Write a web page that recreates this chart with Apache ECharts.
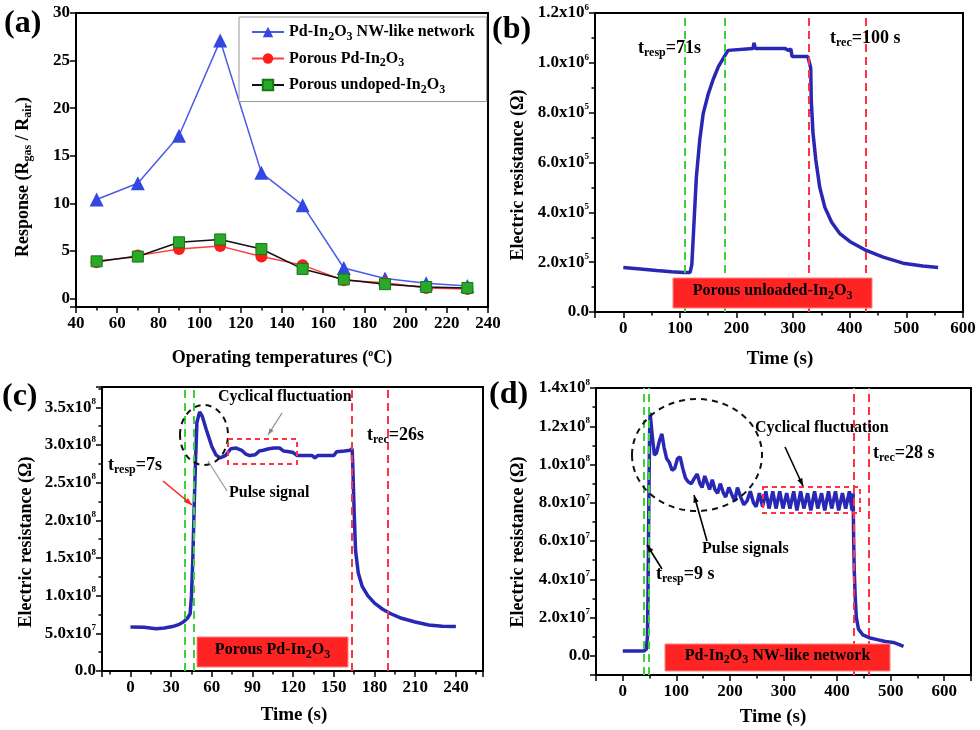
<!DOCTYPE html>
<html>
<head>
<meta charset="utf-8">
<script src="https://cdn.jsdelivr.net/npm/echarts@6/dist/echarts.min.js"></script>
<style>
  html, body { margin: 0; padding: 0; background: #fff; }
  #main { width: 980px; height: 730px; }
</style>
</head>
<body>
<div id="main"></div>
<script>
// ---- data: panel (a) response vs temperature
const tempC = [50, 70, 90, 110, 130, 150, 170, 190, 210, 230];
const nwNetwork = [10.4, 12.1, 17.1, 27.1, 13.2, 9.8, 3.2, 2.1, 1.6, 1.3];
const porousPd = [3.8, 4.5, 5.2, 5.5, 4.4, 3.5, 1.9, 1.65, 1.1, 1.0];
const porousUndoped = [3.9, 4.4, 5.9, 6.2, 5.2, 3.1, 2.0, 1.5, 1.2, 1.1];

// ---- panel (b) porous unloaded In2O3
const timeB = [0, 30, 59, 85, 106, 118, 121, 124, 129, 135, 141, 150, 159, 168, 176, 185, 188, 229, 231, 233,
  285, 292, 296, 298, 326, 328, 331, 332, 335, 340, 347, 356, 368, 382, 400, 429, 459, 494, 529, 556];
const resB = [1.79e5, 1.73e5, 1.67e5, 1.62e5, 1.59e5, 1.59e5, 1.9e5, 3.2e5, 5.4e5, 6.9e5, 7.95e5, 8.75e5, 9.35e5, 9.85e5, 1.016e6, 1.05e6, 1.058e6, 1.058e6, 1.08e6, 1.058e6,
  1.058e6, 1.05e6, 1.055e6, 1.025e6, 1.025e6, 1.02e6, 9.8e5, 8.5e5, 7.2e5, 6.1e5, 5.0e5, 4.2e5, 3.6e5, 3.16e5, 2.83e5, 2.47e5, 2.2e5, 1.96e5, 1.85e5, 1.79e5];

// ---- panel (c) porous Pd-In2O3
const timeC = [0, 10, 19, 25, 31, 36, 39, 42, 44, 45, 46, 47, 48, 49, 51, 53, 56, 60, 63, 66,
  70, 74, 78, 82, 85, 88, 92, 95, 98, 102, 106, 110, 113, 117, 120, 123, 130, 134, 136, 138,
  145, 150, 152, 158, 162, 163.5, 164, 165, 166, 168, 171, 175, 180, 186, 192, 200, 210, 220, 230, 240];
const resC = [5.85e7, 5.8e7, 5.6e7, 5.7e7, 5.9e7, 6.2e7, 6.5e7, 7.0e7, 7.6e7, 1.0e8, 1.5e8, 2.2e8, 2.8e8, 3.3e8, 3.44e8, 3.38e8, 3.2e8, 2.98e8, 2.87e8, 2.83e8,
  2.86e8, 2.95e8, 2.96e8, 2.93e8, 2.88e8, 2.86e8, 2.87e8, 2.92e8, 2.93e8, 2.95e8, 2.96e8, 2.96e8, 2.92e8, 2.91e8, 2.9e8, 2.86e8, 2.86e8, 2.86e8, 2.83e8, 2.86e8,
  2.86e8, 2.86e8, 2.91e8, 2.92e8, 2.93e8, 2.95e8, 2.7e8, 2.1e8, 1.6e8, 1.3e8, 1.12e8, 1.0e8, 9.0e7, 8.2e7, 7.6e7, 7.0e7, 6.5e7, 6.1e7, 5.95e7, 5.9e7];

// ---- panel (d) Pd-In2O3 NW-like network
const timeD = [0, 20, 40, 44, 46, 47, 48, 49, 50, 51, 55, 59, 63, 68, 73, 77, 82, 87, 92, 97,
  102, 107, 112, 117, 122, 128, 134, 139, 144, 148, 153, 158, 162, 167, 172, 177, 182, 188, 192, 198,
  204, 209, 214, 220, 226, 232, 238, 244, 249, 255, 261, 267, 273, 280, 286, 293, 299, 306, 312, 319,
  325, 332, 338, 345, 351, 358, 364, 371, 377, 384, 390, 397, 403, 410, 416, 423, 428, 430, 431, 432,
  434, 436, 440, 448, 460, 475, 490, 505, 515, 524];
const resD = [2.5e6, 2.5e6, 2.6e6, 3.5e6, 1.0e7, 3.0e7, 6.0e7, 9.0e7, 1.15e8, 1.27e8, 1.15e8, 1.05e8, 1.06e8, 1.12e8, 1.16e8, 1.09e8, 1.03e8, 1.01e8, 9.7e7, 9.8e7,
  1.03e8, 1.04e8, 9.8e7, 9.3e7, 9.1e7, 9.0e7, 9.3e7, 9.5e7, 9.0e7, 8.8e7, 9.4e7, 9.0e7, 8.7e7, 9.2e7, 8.7e7, 8.5e7, 9.0e7, 8.5e7, 8.3e7, 8.8e7,
  8.4e7, 8.1e7, 8.8e7, 8.3e7, 7.9e7, 8.1e7, 8.6e7, 8.0e7, 7.8e7, 8.5e7, 7.8e7, 8.6e7, 7.7e7, 8.6e7, 7.7e7, 8.6e7, 7.7e7, 8.5e7, 7.7e7, 8.6e7,
  7.6e7, 8.6e7, 7.7e7, 8.5e7, 7.6e7, 8.6e7, 7.7e7, 8.5e7, 7.6e7, 8.6e7, 7.7e7, 8.6e7, 7.6e7, 8.5e7, 7.7e7, 8.6e7, 7.6e7, 8.5e7, 6.0e7, 4.5e7,
  3.0e7, 2.0e7, 1.4e7, 1.1e7, 9.5e6, 8.5e6, 7.5e6, 7.0e6, 6.0e6, 5.0e6];

const FONT = '"Liberation Serif", "Times New Roman", serif';
const CURVE = '#2828b4';
const GREEN = '#3fd13a';
const RED = '#ff3344';

const rich = {
  sub: { fontFamily: FONT, fontWeight: 'bold', fontSize: 12, padding: [9, 0, 0, 0] },
  sup: { fontFamily: FONT, fontWeight: 'bold', fontSize: 10, padding: [0, 0, 10, 0] },
  ysup: { fontFamily: FONT, fontWeight: 'bold', fontSize: 9, padding: [0, 0, 11, 0] }
};

function zip(xs, ys) { return xs.map((x, i) => [x, ys[i]]); }

function onStep(v, step) { return Math.abs(v / step - Math.round(v / step)) < 1e-6; }

function sciLabel(step) {
  return function (v) {
    if (v < 0 || !onStep(v, step)) return '';
    if (v === 0) return '0.0';
    const e = Math.floor(Math.log10(v) + 1e-9);
    return (v / Math.pow(10, e)).toFixed(1) + 'x10{ysup|' + e + '}';
  };
}
function plainLabel(step) {
  return function (v) { return onStep(v, step) ? String(v) : ''; };
}

function xAxisOf(idx, min, max, split, step) {
  return {
    type: 'value', gridIndex: idx, min, max, splitNumber: split,
    splitLine: { show: false },
    axisLine: { onZero: false, lineStyle: { color: '#000', width: 2 } },
    axisTick: { length: 6, lineStyle: { color: '#000', width: 1.5 } },
    minorTick: { show: true, splitNumber: 2, length: 3.5, lineStyle: { color: '#000', width: 1.5 } },
    axisLabel: { formatter: plainLabel(step), color: '#000', fontFamily: FONT, fontWeight: 'bold', fontSize: 17, margin: 8, showMinLabel: true }
  };
}
function yAxisOf(idx, min, max, split, fmt, minor) {
  return {
    type: 'value', gridIndex: idx, min, max, splitNumber: split,
    splitLine: { show: false },
    axisLine: { onZero: false, lineStyle: { color: '#000', width: 2 } },
    axisTick: { length: 6, lineStyle: { color: '#000', width: 1.5 } },
    minorTick: { show: minor, splitNumber: 2, length: 3.5, lineStyle: { color: '#000', width: 1.5 } },
    axisLabel: { formatter: fmt, color: '#000', fontFamily: FONT, fontWeight: 'bold', fontSize: 17, margin: 6, rich }
  };
}

function vlines(items) {
  return {
    symbol: 'none', silent: true, label: { show: false },
    data: items.map(([x, c]) => ({ xAxis: x, lineStyle: { color: c, type: [8, 5], width: 2 } }))
  };
}

function curve(idx, data, marks) {
  return {
    type: 'line', xAxisIndex: idx, yAxisIndex: idx, data, showSymbol: false,
    lineStyle: { color: CURVE, width: 3.5 }, itemStyle: { color: CURVE },
    markLine: vlines(marks), z: 3
  };
}

// ---- annotation helpers
function txt(x, y, text, size, opts) {
  return Object.assign({
    type: 'text', x, y, z: 100,
    style: {
      text, fill: '#000', fontFamily: FONT, fontWeight: 'bold', fontSize: size, rich,
      align: 'left', textAlign: 'left', verticalAlign: 'middle', textVerticalAlign: 'middle'
    }
  }, opts || {});
}
function ctxt(x, y, text, size, rot) {
  const t = txt(x, y, text, size);
  t.style.align = t.style.textAlign = 'center';
  if (rot) t.rotation = rot;
  return t;
}
function arrow(x1, y1, x2, y2, color, w, head) {
  const a = Math.atan2(y2 - y1, x2 - x1), h = head || 9;
  const p1 = [x2 - h * Math.cos(a - 0.35), y2 - h * Math.sin(a - 0.35)];
  const p2 = [x2 - h * Math.cos(a + 0.35), y2 - h * Math.sin(a + 0.35)];
  return [
    { type: 'line', z: 100, shape: { x1, y1, x2, y2 }, style: { stroke: color, lineWidth: w } },
    { type: 'polygon', z: 100, shape: { points: [[x2, y2], p1, p2] }, style: { fill: color } }
  ];
}
function redBox(x, y, w, h, label) {
  return [
    { type: 'rect', z: 90, shape: { x, y, width: w, height: h }, style: { fill: '#ff2424', stroke: '#ff8080', lineWidth: 1 } },
    ctxt(x + w / 2, y + h / 2 - 2, label, 16)
  ];
}
function dashRect(x, y, w, h) {
  return { type: 'rect', z: 95, shape: { x, y, width: w, height: h }, style: { fill: 'none', stroke: RED, lineWidth: 2, lineDash: [5, 4] } };
}
function dashEllipse(cx, cy, rx, ry) {
  return { type: 'ellipse', z: 95, shape: { cx, cy, rx, ry }, style: { fill: 'none', stroke: '#111', lineWidth: 2, lineDash: [6, 5] } };
}

const IN2O3 = 'In{sub|2}O{sub|3}';
const legendNames = {
  'Pd-In2O3 NW-like network': 'Pd-' + IN2O3 + ' NW-like network',
  'Porous Pd-In2O3': 'Porous Pd-' + IN2O3,
  'Porous undoped-In2O3': 'Porous undoped-' + IN2O3
};

const graphics = [].concat(
  // panel letters
  txt(4, 24, '(a)', 32), txt(492, 30, '(b)', 32), txt(2, 397, '(c)', 32), txt(489, 395, '(d)', 32),
  // axis titles
  ctxt(23, 177, 'Response (R{sub|gas} / R{sub|air})', 18, Math.PI / 2),
  ctxt(282, 358, 'Operating temperatures ({sup|o}C)', 18),
  ctxt(518, 175, 'Electric resistance (\u03A9)', 18, Math.PI / 2),
  ctxt(780, 359, 'Time (s)', 19),
  ctxt(26, 542, 'Electric resistance (\u03A9)', 18, Math.PI / 2),
  ctxt(294, 715, 'Time (s)', 19),
  ctxt(518, 542, 'Electric resistance (\u03A9)', 18, Math.PI / 2),
  ctxt(773, 717, 'Time (s)', 19),
  // panel (b)
  txt(638, 48, 't{sub|resp}=71s', 18),
  txt(830, 38, 't{sub|rec}=100 s', 18),
  redBox(673, 278, 199, 30, 'Porous unloaded-' + IN2O3),
  // panel (c)
  dashEllipse(204, 435, 24, 30),
  dashRect(228, 439, 69, 25),
  txt(218, 397, 'Cyclical fluctuation', 16),
  arrow(282, 413, 268, 435, '#888', 1.2, 7),
  { type: 'line', z: 100, shape: { x1: 227, y1: 491, x2: 208, y2: 461 }, style: { stroke: '#999', lineWidth: 1.2 } },
  txt(229, 493, 'Pulse signal', 16),
  txt(108, 465, 't{sub|resp}=7s', 18),
  arrow(163, 481, 192, 505, '#ff2222', 1.6, 8),
  txt(367, 435, 't{sub|rec}=26s', 18),
  redBox(197, 637, 151, 30, 'Porous Pd-' + IN2O3),
  // panel (d)
  dashEllipse(697, 455, 65, 56),
  dashRect(763, 487, 97, 26),
  txt(755, 428, 'Cyclical fluctuation', 16),
  arrow(785, 447, 803, 486, '#000', 1.6, 8),
  txt(873, 453, 't{sub|rec}=28 s', 18),
  txt(702, 549, 'Pulse signals', 16),
  arrow(707, 541, 694, 495, '#000', 1.6, 8),
  txt(656, 574, 't{sub|resp}=9 s', 18),
  arrow(662, 569, 647, 545, '#000', 1.6, 8),
  redBox(665, 644, 225, 27, 'Pd-' + IN2O3 + ' NW-like network')
);

const chart = echarts.init(document.getElementById('main'), null, { renderer: 'canvas' });

chart.setOption({
  animation: false,
  backgroundColor: '#fff',
  grid: [
    { left: 76, top: 13, width: 412, height: 294, show: true, borderColor: '#000', borderWidth: 2 },
    { left: 595, top: 13, width: 368, height: 299, show: true, borderColor: '#000', borderWidth: 2 },
    { left: 102, top: 387, width: 381, height: 284, show: true, borderColor: '#000', borderWidth: 2 },
    { left: 596, top: 388, width: 375, height: 287, show: true, borderColor: '#000', borderWidth: 2 }
  ],
  xAxis: [
    xAxisOf(0, 40, 240, 10, 20),
    xAxisOf(1, -50, 600, 6, 100),
    xAxisOf(2, -21, 260, 9, 30),
    xAxisOf(3, -50, 650, 7, 100)
  ],
  yAxis: [
    yAxisOf(0, -0.9, 30, 6, plainLabel(5), false),
    yAxisOf(1, 0, 1.2e6, 6, sciLabel(2e5), true),
    yAxisOf(2, 0, 3.77e8, 8, sciLabel(5e7), true),
    yAxisOf(3, -1e7, 1.4e8, 8, sciLabel(2e7), true)
  ],
  legend: {
    left: 239, top: 17, width: 248, orient: 'vertical',
    backgroundColor: '#fff', borderColor: '#999', borderWidth: 1,
    padding: [7, 12, 6, 12], itemGap: 8, itemWidth: 32, itemHeight: 13,
    data: Object.keys(legendNames),
    formatter: n => legendNames[n],
    textStyle: { fontFamily: FONT, fontWeight: 'bold', fontSize: 16, color: '#000', rich }
  },
  series: [
    {
      name: 'Pd-In2O3 NW-like network', type: 'line', xAxisIndex: 0, yAxisIndex: 0,
      data: zip(tempC, nwNetwork), symbol: 'triangle', symbolSize: 14,
      lineStyle: { color: '#4a5be8', width: 1.5 }, itemStyle: { color: '#3447e0' }
    },
    {
      name: 'Porous Pd-In2O3', type: 'line', xAxisIndex: 0, yAxisIndex: 0,
      data: zip(tempC, porousPd), symbol: 'circle', symbolSize: 12,
      lineStyle: { color: '#ff3a3a', width: 1.5 }, itemStyle: { color: '#ff1c1c' }
    },
    {
      name: 'Porous undoped-In2O3', type: 'line', xAxisIndex: 0, yAxisIndex: 0,
      data: zip(tempC, porousUndoped), symbol: 'rect', symbolSize: 11,
      lineStyle: { color: '#111', width: 1.5 }, itemStyle: { color: '#2aa82a', borderColor: '#127a12', borderWidth: 1 }
    },
    curve(1, zip(timeB, resB), [[109, GREEN], [180, GREEN], [328, RED], [429, RED]]),
    curve(2, zip(timeC, resC), [[40, GREEN], [47, GREEN], [163.5, RED], [190, RED]]),
    curve(3, zip(timeD, resD), [[39, GREEN], [48, GREEN], [431, RED], [459, RED]])
  ],
  graphic: graphics
});
</script>
</body>
</html>
